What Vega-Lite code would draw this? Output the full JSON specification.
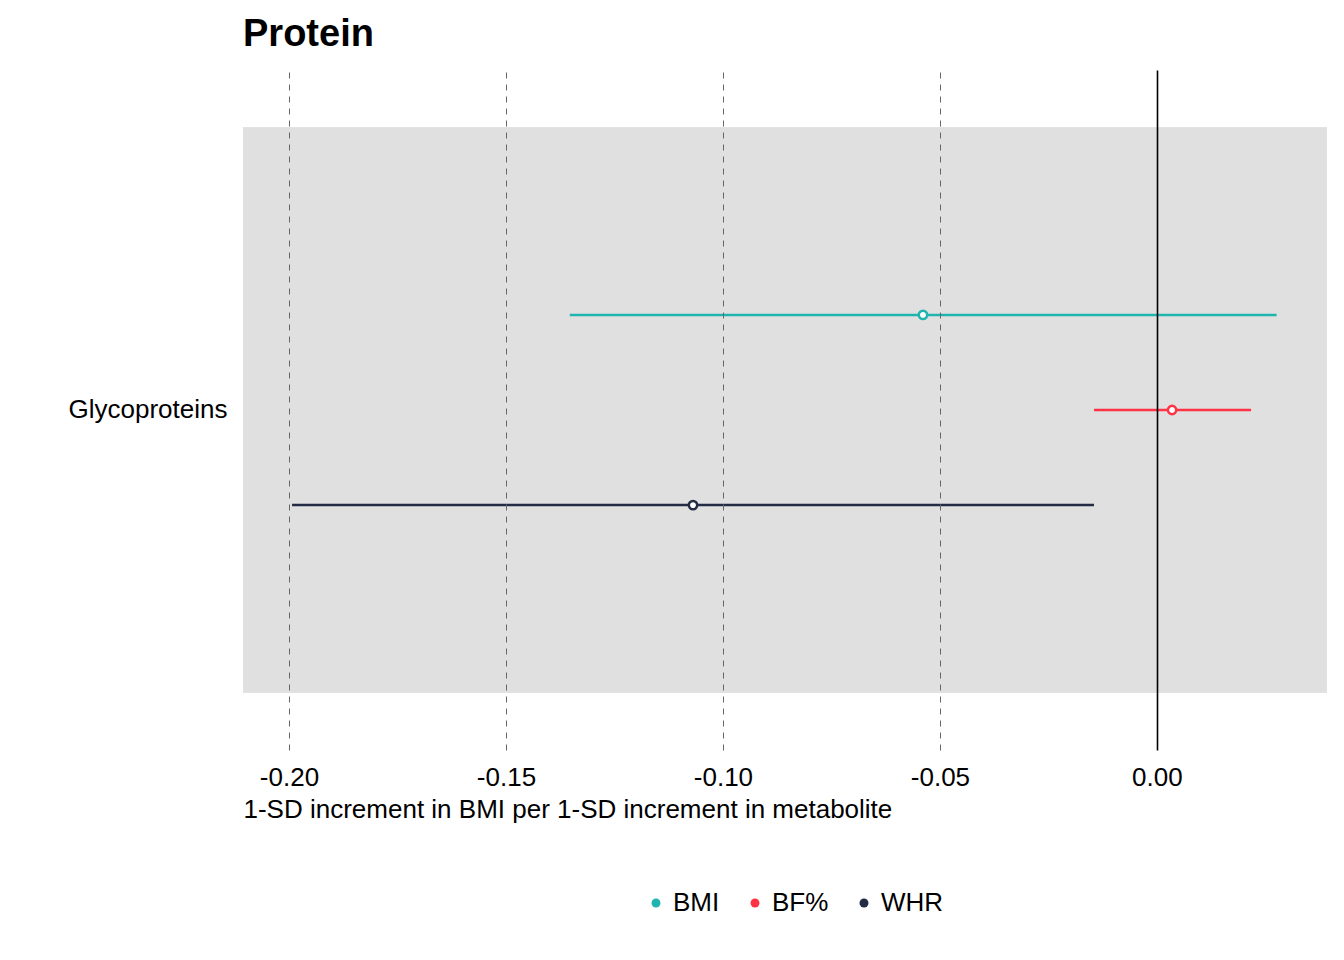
{
  "$schema": "https://vega.github.io/schema/vega-lite/v6.json",
  "autosize": "none",
  "width": 1084,
  "height": 680,
  "padding": {"left": 243, "top": 70, "right": 17, "bottom": 210},
  "background": "#ffffff",
  "view": {"stroke": null},
  "title": {"text": "Protein", "anchor": "start", "frame": "group", "fontSize": 38, "fontWeight": "bold", "font": "Liberation Sans", "color": "#000000", "offset": 16},
  "config": {"font": "Liberation Sans"},
  "data": {"values": [
    {"metabolite": "Glycoproteins", "trait": "BMI", "est": -0.0539, "low": -0.1353, "high": 0.0276},
    {"metabolite": "Glycoproteins", "trait": "BF%", "est": 0.0035, "low": -0.0145, "high": 0.0217},
    {"metabolite": "Glycoproteins", "trait": "WHR", "est": -0.1069, "low": -0.1993, "high": -0.0145}
  ]},
  "encoding": {
    "y": {"field": "metabolite", "type": "nominal", "title": null,
      "scale": {"paddingInner": 0, "paddingOuter": 0.102},
      "axis": {"domain": false, "ticks": false, "labelFontSize": 26, "labelColor": "#000000", "labelPadding": 16}}
  },
  "layer": [
    {"mark": {"type": "rect", "color": "#e0e0e0"}, "encoding": {}},
    {
      "mark": {"type": "rule", "strokeWidth": 2.5},
      "encoding": {
        "x": {"field": "low", "type": "quantitative",
          "scale": {"domain": [-0.2106, 0.0392], "nice": false, "zero": false},
          "title": "1-SD increment in BMI per 1-SD increment in metabolite",
          "axis": {"values": [-0.2, -0.15, -0.1, -0.05, 0], "format": ".2f", "labelExpr": "replace(datum.label, '−', '-')", "domain": false, "ticks": false,
            "labelFontSize": 26, "labelColor": "#000000", "labelPadding": 14,
            "titleFontSize": 26, "titleFontWeight": "normal", "titleColor": "#000000", "titleAnchor": "start", "titleAlign": "left", "titlePadding": 6,
            "grid": true, "zindex": 1,
            "gridColor": {"condition": {"test": "datum.value === 0", "value": "#000000"}, "value": "#666666"},
            "gridDash": {"condition": {"test": "datum.value === 0", "value": []}, "value": [6, 6]},
            "gridWidth": {"condition": {"test": "datum.value === 0", "value": 1.6}, "value": 1}}},
        "x2": {"field": "high"},
        "yOffset": {"field": "trait", "type": "nominal", "scale": {"domain": ["_a", "BMI", "BF%", "WHR", "_b"], "paddingOuter": 0.47, "paddingInner": 0}},
        "color": {"field": "trait", "type": "nominal", "title": null,
          "scale": {"domain": ["BMI", "BF%", "WHR"], "range": ["#1fb5ae", "#ff3344", "#232b45"]},
          "legend": {"orient": "none", "legendX": 400, "legendY": 820, "direction": "horizontal", "labelFontSize": 26, "labelColor": "#000000",
            "symbolType": "circle", "symbolSize": 80, "columnPadding": 22,
            "encode": {"symbols": {"update": {"fill": {"scale": "color", "field": "value"}, "strokeWidth": {"value": 0}}}}}}
      }
    },
    {
      "mark": {"type": "point", "filled": true, "fill": "#ffffff", "strokeWidth": 2.5, "size": 70, "opacity": 1},
      "encoding": {
        "x": {"field": "est", "type": "quantitative"},
        "yOffset": {"field": "trait", "type": "nominal"},
        "stroke": {"field": "trait", "type": "nominal", "scale": {"domain": ["BMI", "BF%", "WHR"], "range": ["#1fb5ae", "#ff3344", "#232b45"]}, "legend": null}
      }
    }
  ]
}
